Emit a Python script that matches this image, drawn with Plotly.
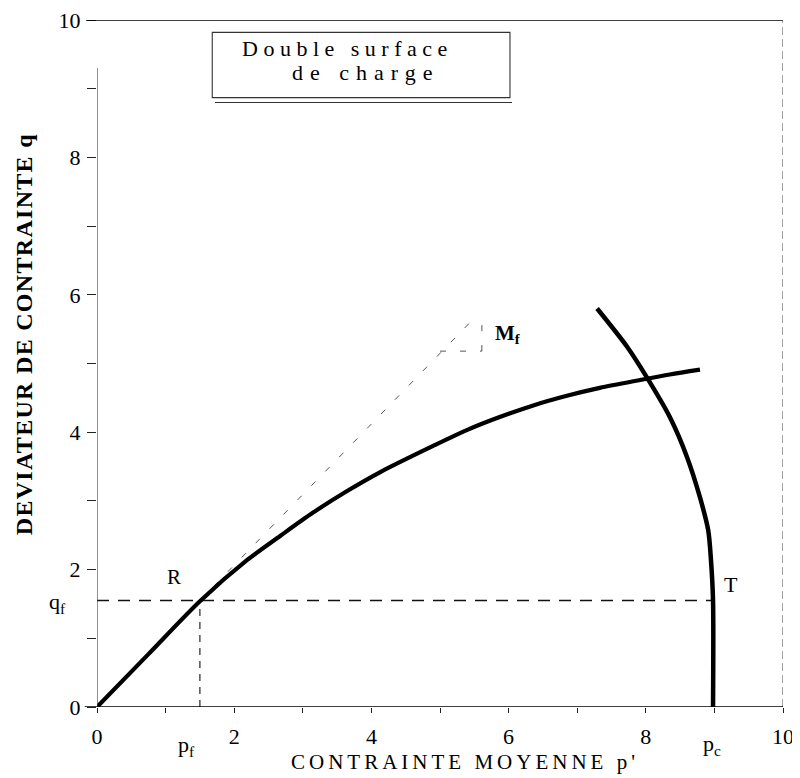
import plotly.graph_objects as go

# ---- data ----
# yield curve from origin through R
curve_p = [0.0, 0.75, 1.5, 2.19, 2.67, 3.15, 3.64, 4.13, 4.9, 5.39, 5.87, 6.36, 6.85, 7.33, 7.92, 8.35, 8.79]
curve_q = [0.0, 0.77, 1.54, 2.14, 2.49, 2.83, 3.14, 3.42, 3.80, 4.03, 4.22, 4.39, 4.53, 4.645, 4.76, 4.84, 4.91]

# cap curve through T
cap_p = [7.29, 7.73, 8.02, 8.35, 8.60, 8.79, 8.91, 8.95, 8.98, 8.98]
cap_q = [5.80, 5.24, 4.79, 4.22, 3.64, 3.05, 2.57, 2.14, 1.55, 0.0]

# tangent (faint dashed) from R towards M_f
tangent_p = [1.5, 5.44]
tangent_q = [1.55, 5.60]
slope_h_p = [5.0, 5.61]
slope_h_q = [5.18, 5.18]
slope_v_p = [5.61, 5.61]
slope_v_q = [5.18, 5.60]

# failure point references
p_f, q_f = 1.5, 1.55
p_c = 8.98

major_ticks = [0, 2, 4, 6, 8, 10]
major_text = ["0", "2", "4", "6", "8", "10"]
minor_ticks = [1, 3, 5, 7, 9]

SERIF = "Liberation Serif"

fig = go.Figure()

# dashed guide lines
fig.add_trace(go.Scatter(x=[0, p_c], y=[q_f, q_f], mode="lines",
                         line=dict(color="#111", width=1.3, dash="12px,9px"),
                         hoverinfo="skip", showlegend=False))
fig.add_trace(go.Scatter(x=[p_f, p_f], y=[0, q_f], mode="lines",
                         line=dict(color="#111", width=1.1, dash="7px,6px"),
                         hoverinfo="skip", showlegend=False))

# faint tangent
for xs, ys in [(tangent_p, tangent_q), (slope_h_p, slope_h_q), (slope_v_p, slope_v_q)]:
    fig.add_trace(go.Scatter(x=xs, y=ys, mode="lines",
                             line=dict(color="#555", width=1.0, dash="6px,14px"),
                             hoverinfo="skip", showlegend=False))

# thick curves
fig.add_trace(go.Scatter(x=curve_p, y=curve_q, mode="lines",
                         line=dict(color="black", width=4.2, shape="spline", smoothing=0.8),
                         hoverinfo="skip", showlegend=False))
fig.add_trace(go.Scatter(x=cap_p, y=cap_q, mode="lines",
                         line=dict(color="black", width=4.5, shape="spline", smoothing=0.8),
                         hoverinfo="skip", showlegend=False))

shapes = [
    # top border
    dict(type="line", xref="paper", yref="y", x0=-0.016, x1=1.0, y0=10, y1=10,
         line=dict(color="black", width=1.5)),
    # right border (faint dashed)
    dict(type="line", xref="x", yref="y", x0=10, x1=10, y0=0, y1=10,
         line=dict(color="#444", width=1, dash="8px,4px")),
    # left axis
    dict(type="line", xref="x", yref="y", x0=0, x1=0, y0=0, y1=9.3,
         line=dict(color="#333", width=1.1)),
    # bottom axis
    dict(type="line", xref="paper", yref="y", x0=-0.018, x1=1.0, y0=0, y1=0,
         line=dict(color="black", width=1.6)),
    # legend box
    dict(type="rect", xref="x", yref="y", x0=1.68, x1=6.02, y0=8.87, y1=9.82,
         line=dict(color="#333", width=1.1)),
    dict(type="line", xref="x", yref="y", x0=1.72, x1=6.05, y0=8.80, y1=8.80,
         line=dict(color="#333", width=1.1)),
]

def ann(x, y, text, size=21, bold=False, xanchor="center", yanchor="middle", angle=0):
    # x, y given in data units (axes span 0..10 exactly over the plot area)
    return dict(x=x / 10.0, y=y / 10.0, xref="paper", yref="paper", text=text,
                showarrow=False, xanchor=xanchor, yanchor=yanchor, textangle=angle,
                font=dict(family=SERIF, size=size, color="black",
                          weight="bold" if bold else "normal"))

annotations = [
    ann(3.65, 9.59, '<span style="letter-spacing:5.5px">Double surface</span>', size=22),
    ann(3.92, 9.23, '<span style="letter-spacing:7px">de charge</span>', size=22),
    ann(1.12, 1.89, "R", size=21),
    ann(9.24, 1.79, "T", size=22),
    ann(5.99, 5.43, "M<sub>f</sub>", size=21, bold=True),
    ann(-0.58, 1.52, "q<sub>f</sub>", size=22),
    ann(1.31, -0.57, "p<sub>f</sub>", size=22),
    ann(8.97, -0.55, "p<sub>c</sub>", size=22),
    ann(5.36, -0.80, '<span style="letter-spacing:4px">CONTRAINTE MOYENNE p\'</span>', size=21),
    ann(-1.06, 5.43, '<span style="letter-spacing:1.3px">DEVIATEUR DE CONTRAINTE q</span>',
        size=24, bold=True, angle=-90),
]

# the page body adds an 8px offset, so margins are shifted to compensate
fig.update_layout(
    width=800, height=778,
    margin=dict(l=89, r=25, t=12, b=79, autoexpand=False),
    paper_bgcolor="white", plot_bgcolor="white",
    showlegend=False,
    shapes=shapes,
    annotations=annotations,
    xaxis=dict(range=[0, 10], tickvals=major_ticks, ticktext=major_text,
               ticks="outside", ticklen=5, tickwidth=1, tickcolor="#222",
               minor=dict(tickvals=minor_ticks, ticks="outside", ticklen=5,
                          tickwidth=1, tickcolor="#222", showgrid=False),
               showgrid=False, zeroline=False, showline=False, automargin=False,
               ticklabelstandoff=5, ticklabeloverflow="allow",
               tickfont=dict(family=SERIF, size=22, color="black")),
    yaxis=dict(range=[0, 10], tickvals=major_ticks, ticktext=major_text,
               ticks="outside", ticklen=9, tickwidth=1, tickcolor="#222",
               minor=dict(tickvals=minor_ticks, ticks="outside", ticklen=9,
                          tickwidth=1, tickcolor="#222", showgrid=False),
               showgrid=False, zeroline=False, showline=False, automargin=False,
               ticklabelstandoff=2, ticklabeloverflow="allow",
               tickfont=dict(family=SERIF, size=22, color="black")),
)

fig.write_html("out.html")
